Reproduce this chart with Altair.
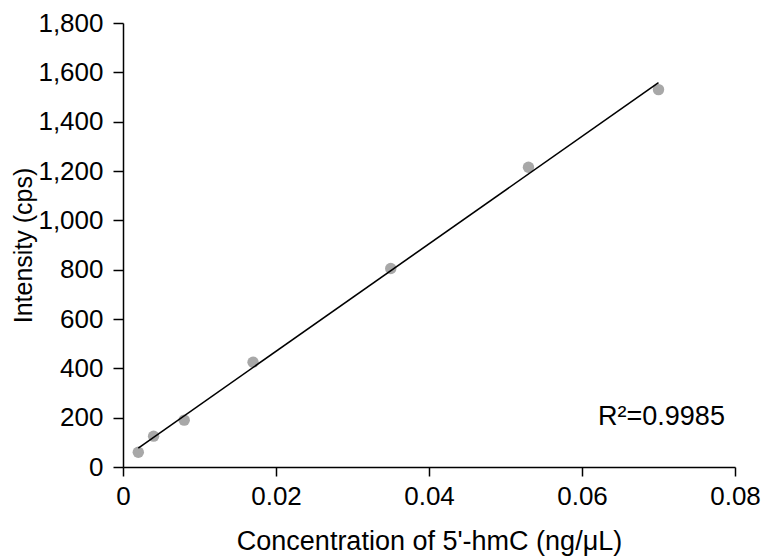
import altair as alt
import pandas as pd

conc = [0.002, 0.004, 0.008, 0.017, 0.035, 0.053, 0.070]
intensity = [60, 125, 190, 425, 805, 1215, 1530]
x_ticks = [0, 0.02, 0.04, 0.06, 0.08]
y_ticks = [0, 200, 400, 600, 800, 1000, 1200, 1400, 1600, 1800]
r2_label = ["R²=0.9985"]
r2_pos_x = [0.0621]
r2_pos_y = [170]

df = pd.DataFrame({"conc": conc, "intensity": intensity})
df_lab = pd.DataFrame({"conc": r2_pos_x, "intensity": r2_pos_y, "t": r2_label})

FONT = "Liberation Sans"
PAD_L, PAD_T = 115, 15
PLOT_W, PLOT_H = 612, 444
SVG_W = 753

xscale = alt.Scale(domain=[0, 0.08], nice=False, zero=False)
yscale = alt.Scale(domain=[0, 1800], nice=False)

xaxis = alt.Axis(values=x_ticks, format="~g", title="Concentration of 5'-hmC (ng/μL)",
                 tickSize=9, labelPadding=7,
                 labelFontSize=26, titleFontSize=27,
                 titleY=82, titleBaseline="alphabetic")
yaxis = alt.Axis(values=y_ticks, format=",.0f", title="Intensity (cps)",
                 tickSize=10, labelPadding=10,
                 labelFontSize=26, titleFontSize=25,
                 titleX=-92, titleY=PLOT_H / 2, titleBaseline="alphabetic",
                 titleAngle=270, titleAlign="center")

X = alt.X("conc:Q", scale=xscale, axis=xaxis)
Y = alt.Y("intensity:Q", scale=yscale, axis=yaxis)

base = alt.Chart(df)

points = base.mark_circle(size=130, color="#a8a8a8", opacity=1).encode(x=X, y=Y)

line = base.transform_regression("conc", "intensity").mark_line(
    color="black", strokeWidth=1.6
).encode(x=X, y=Y)

text = alt.Chart(df_lab).mark_text(
    align="left", baseline="alphabetic", font=FONT, fontSize=27, color="black"
).encode(x=X, y=Y, text="t:N")

chart = (points + line + text).properties(
    width=PLOT_W, height=PLOT_H,
    autosize=alt.AutoSizeParams(type="none"),
    padding={"left": PAD_L, "top": PAD_T, "right": SVG_W - PAD_L - PLOT_W, "bottom": 90},
).configure_view(stroke=None).configure_axis(
    grid=False, labelFont=FONT, titleFont=FONT, titleFontWeight="normal",
    labelColor="black", titleColor="black", domainColor="black", tickColor="black",
    domainWidth=1.5, tickWidth=1.5, labelFlush=False, labelOverlap=False,
)

chart.save("out.html", embed_options={"renderer": "svg", "actions": False})
